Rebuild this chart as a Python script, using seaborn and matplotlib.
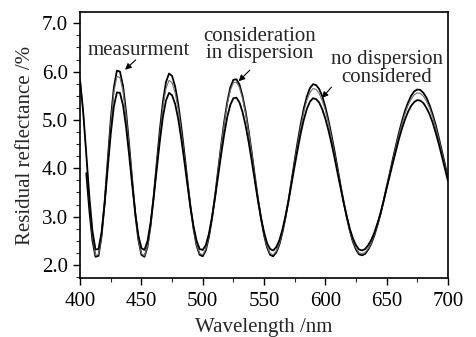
import numpy as np
import pandas as pd
import matplotlib
matplotlib.use("Agg")
import matplotlib.pyplot as plt
from matplotlib.ticker import MultipleLocator, FormatStrFormatter
import seaborn as sns

# wavelength grid (nm)
wavelength = np.arange(400, 702.5, 2.5)

# residual reflectance (%)
measurement = [
    np.nan, np.nan, 3.90, 3.13, 2.51, 2.17,
    2.19, 2.60, 3.30, 4.16, 5.01, 5.67, 6.02,
    6.00, 5.70, 5.16, 4.48, 3.75, 3.05, 2.52, 2.21,
    2.17, 2.38, 2.82, 3.43, 4.11, 4.79, 5.37, 5.78, 5.96,
    5.91, 5.69, 5.33, 4.86, 4.32, 3.75, 3.21, 2.75, 2.40, 2.21,
    2.18, 2.30, 2.57, 2.95, 3.42, 3.95, 4.47, 4.96, 5.37, 5.67, 5.83,
    5.84, 5.73, 5.49, 5.17, 4.77, 4.32, 3.84, 3.38, 2.97, 2.62, 2.36, 2.21,
    2.18, 2.26, 2.42, 2.67, 2.98, 3.34, 3.75, 4.16, 4.56, 4.92, 5.24, 5.49, 5.66, 5.74,
    5.72, 5.64, 5.49, 5.27, 5.00, 4.69, 4.36, 4.00, 3.64, 3.30, 2.99, 2.71, 2.48, 2.32, 2.22,
    2.20, 2.23, 2.32, 2.44, 2.61, 2.82, 3.05, 3.32, 3.61, 3.89, 4.18, 4.46, 4.73, 4.97, 5.19, 5.36, 5.50, 5.59, 5.63,
    5.62, 5.56, 5.46, 5.31, 5.12, 4.90, 4.64, 4.37, 4.09, 3.80,
]
with_dispersion = [
    5.87, 5.19, 4.29, 3.36, 2.61, 2.20,
    2.22, 2.61, 3.28, 4.11, 4.93, 5.57, 5.90,
    5.88, 5.59, 5.08, 4.42, 3.72, 3.05, 2.54, 2.24,
    2.19, 2.40, 2.82, 3.40, 4.05, 4.70, 5.26, 5.65, 5.82,
    5.77, 5.56, 5.22, 4.77, 4.25, 3.71, 3.19, 2.75, 2.42, 2.24,
    2.21, 2.33, 2.59, 2.96, 3.42, 3.93, 4.45, 4.92, 5.32, 5.61, 5.77,
    5.78, 5.67, 5.44, 5.13, 4.74, 4.30, 3.83, 3.38, 2.98, 2.64, 2.38, 2.24,
    2.21, 2.29, 2.44, 2.68, 2.98, 3.33, 3.73, 4.12, 4.51, 4.86, 5.17, 5.41, 5.57, 5.65,
    5.63, 5.55, 5.40, 5.20, 4.94, 4.64, 4.31, 3.97, 3.63, 3.29, 2.99, 2.72, 2.50, 2.35, 2.25,
    2.23, 2.26, 2.34, 2.46, 2.63, 2.83, 3.06, 3.32, 3.60, 3.87, 4.15, 4.43, 4.69, 4.92, 5.13, 5.30, 5.43, 5.52, 5.56,
    5.55, 5.49, 5.39, 5.25, 5.07, 4.85, 4.60, 4.34, 4.06, 3.78,
]
no_dispersion = [
    5.80, 5.16, 4.30, 3.41, 2.71, 2.32,
    2.33, 2.68, 3.27, 4.00, 4.72, 5.28, 5.57,
    5.56, 5.30, 4.85, 4.27, 3.65, 3.07, 2.61, 2.35,
    2.31, 2.50, 2.88, 3.39, 3.98, 4.56, 5.06, 5.40, 5.56,
    5.51, 5.33, 5.02, 4.61, 4.15, 3.66, 3.19, 2.80, 2.50, 2.33,
    2.31, 2.41, 2.64, 2.98, 3.38, 3.83, 4.28, 4.70, 5.06, 5.31, 5.45,
    5.46, 5.36, 5.16, 4.88, 4.54, 4.15, 3.74, 3.34, 2.98, 2.68, 2.45, 2.33,
    2.30, 2.37, 2.51, 2.73, 3.01, 3.33, 3.69, 4.05, 4.40, 4.73, 5.01, 5.23, 5.38, 5.45,
    5.43, 5.36, 5.22, 5.03, 4.79, 4.52, 4.22, 3.90, 3.59, 3.28, 3.00, 2.75, 2.55, 2.41, 2.32,
    2.30, 2.33, 2.41, 2.52, 2.67, 2.86, 3.07, 3.32, 3.58, 3.84, 4.10, 4.35, 4.60, 4.82, 5.01, 5.17, 5.29, 5.37, 5.41,
    5.40, 5.35, 5.25, 5.12, 4.95, 4.74, 4.51, 4.26, 4.00, 3.74,
]

df = pd.DataFrame({
    "wavelength": wavelength,
    "measurement": measurement,
    "with_dispersion": with_dispersion,
    "no_dispersion": no_dispersion,
})

sns.set_style("ticks")
plt.rcParams["font.family"] = ["Liberation Serif", "DejaVu Serif"]

fig = plt.figure(figsize=(4.77, 3.37), dpi=100)
ax = fig.add_axes([0.168, 0.175, 0.771, 0.789])

sns.lineplot(data=df, x="wavelength", y="measurement", ax=ax, color="black", lw=1.3)
sns.lineplot(data=df, x="wavelength", y="with_dispersion", ax=ax, color="#707070", lw=0.8)
sns.lineplot(data=df, x="wavelength", y="no_dispersion", ax=ax, color="black", lw=1.3)

ax.set_xlim(400, 700)
ax.set_ylim(1.73, 7.23)
ax.xaxis.set_major_locator(MultipleLocator(50))
ax.xaxis.set_minor_locator(MultipleLocator(25))
ax.yaxis.set_major_locator(MultipleLocator(1.0))
ax.yaxis.set_minor_locator(MultipleLocator(0.25))
ax.yaxis.set_major_formatter(FormatStrFormatter("%.1f"))
ax.tick_params(which="major", direction="out", length=5, width=1, labelsize=15,
               colors="black")
ax.tick_params(axis="x", which="major", pad=5)
ax.tick_params(axis="y", which="major", pad=4)
ax.tick_params(which="minor", direction="out", length=3, width=0.8)
for s in ax.spines.values():
    s.set_visible(True)
    s.set_linewidth(1.2)
    s.set_color("black")

ax.set_xlabel("Wavelength /nm", fontsize=15, labelpad=5)
ax.set_ylabel("Residual reflectance /%", fontsize=15, labelpad=5)

# annotations
arrow = dict(arrowstyle="-|>", color="black", lw=0.8, mutation_scale=9)
ax.text(447.5, 6.44, "measurment", ha="center", va="center", fontsize=15)
ax.annotate("", xy=(435, 6.0), xytext=(447, 6.28), arrowprops=arrow)
ax.text(546.5, 6.55, "consideration\nin dispersion", ha="center", va="center",
        fontsize=15, linespacing=0.9)
ax.annotate("", xy=(527.7, 5.76), xytext=(540, 6.07), arrowprops=arrow)
ax.text(650, 6.06, "no dispersion\nconsidered", ha="center", va="center",
        fontsize=15, linespacing=0.9)
ax.annotate("", xy=(595.7, 5.41), xytext=(606.5, 5.72), arrowprops=arrow)

fig.savefig("out.png", dpi=100)
